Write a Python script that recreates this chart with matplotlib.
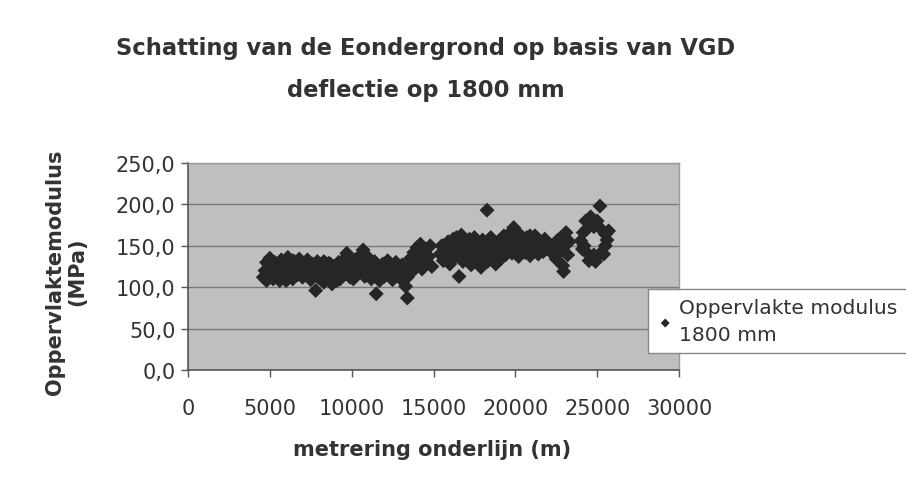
import matplotlib
matplotlib.use("Agg")
import matplotlib.pyplot as plt
from matplotlib.ticker import FuncFormatter

title = "Schatting van de Eondergrond op basis van VGD\ndeflectie op 1800 mm"
x_label = "metrering onderlijn (m)"
y_label = "Oppervlaktemodulus\n(MPa)"
series_name = "Oppervlakte modulus\n1800 mm"

x_seg_a = [4600, 4700, 4800, 4800, 4900, 5000, 5000, 5100, 5200, 5300, 5300, 5400, 5500, 5600,
           5600, 5700, 5800, 5900, 6000, 6000, 6100, 6200, 6300, 6400, 6400, 6500, 6600, 6700,
           6800, 6900, 6900, 7000, 7100, 7200, 7300, 7300, 7400, 7500, 7600, 7600, 7700, 7800,
           7800, 7900, 8000, 8100, 8200, 8300, 8300, 8400, 8500, 8600, 8700, 8700, 8800, 8900,
           9000, 9100, 9100, 9200, 9300, 9400, 9500, 9500, 9600, 9700, 9800, 9900, 10000, 10100,
           10100, 10200, 10300, 10400, 10500, 10600, 10600, 10700, 10800, 10900, 11000, 11000,
           11100, 11200, 11300, 11400, 11500, 11500, 11600, 11700, 11800, 11800, 11900, 12000,
           12100, 12200, 12300, 12300, 12400, 12500, 12600, 12700, 12700, 12800, 12900, 13000,
           13000, 13100, 13200, 13300, 13400, 13400, 13500, 13600, 13700, 13700, 13800, 13900,
           14000, 14100, 14200, 14300, 14400, 14500, 14600, 14700, 14800, 14900]
y_seg_a = [112, 120, 108, 130, 128, 115, 135, 122, 110, 130, 112, 118, 126, 108,
           125, 133, 121, 114, 128, 108, 136, 117, 125, 110, 132, 131, 122, 115,
           134, 127, 116, 112, 120, 130, 118, 133, 125, 109, 128, 112, 116, 96,
           122, 131, 111, 119, 127, 106, 131, 123, 114, 129, 118, 128, 104, 125,
           113, 121, 108, 130, 110, 126, 117, 131, 135, 141, 124, 112, 129, 119,
           110, 133, 115, 126, 138, 121, 132, 145, 113, 130, 118, 136,
           127, 110, 122, 131, 92, 115, 125, 108, 119, 112, 128, 113,
           124, 132, 117, 129, 126, 109, 121, 130, 118, 114, 123, 110,
           125, 127, 118, 101, 87, 112, 124, 135, 119, 135, 142, 128,
           148, 133, 152, 122, 140, 146, 130, 137, 150, 125]

x_seg_b = [15400, 15500, 15600, 15700, 15800, 15900, 16000, 16100, 16200, 16300, 16400, 16500,
           16560, 16600, 16700, 16800, 16900, 17000, 17100, 17200, 17300, 17400, 17500, 17600,
           17700, 17800, 17900, 18000, 18100, 18200, 18270, 18300, 18400, 18500, 18600, 18700,
           18800, 18900, 19000, 19100, 19200, 19300, 19400, 19500, 19600, 19700, 19800, 19900,
           20000, 20100, 20200, 20300, 20400, 20500, 20600, 20700, 20800, 20900, 21000, 21100,
           21200, 21300, 21400, 21500, 21600, 21700, 21800, 21900, 15600, 16200, 16900, 17500,
           18000, 18600, 19100, 19800, 20300, 20900, 21400]
y_seg_b = [140, 150, 132, 146, 138, 155, 128, 143, 135, 151, 160, 139,
           113, 147, 163, 131, 155, 142, 136, 158, 127, 149, 140, 154,
           133, 146, 124, 157, 138, 150, 193, 131, 145, 160, 136, 152,
           128, 143, 155, 134, 148, 162, 139, 153, 145, 166, 141, 172,
           150, 158, 137, 163, 146, 155, 142, 160, 150, 138, 157, 145,
           162, 148, 140, 156, 150, 143, 158, 152, 150, 158, 135, 160,
           132, 148, 140, 152, 150, 162, 143]

x_seg_c = [22200, 22300, 22400, 22500, 22600, 22700, 22800, 22900, 22950, 23000, 23100, 23200, 23300]
y_seg_c = [150, 140, 147, 134, 157, 143, 160, 126, 119, 150, 166, 139, 155]

x_seg_d = [24000, 24100, 24150, 24400, 24400, 24800, 24800, 25200, 25200, 25500, 25500, 25600,
           24300, 24600, 24200, 25000, 24900, 24500, 25170, 25700, 25400]
y_seg_d = [156, 146, 166, 171, 141, 173, 139, 171, 141, 164, 150, 157,
           180, 185, 150, 180, 131, 132, 198, 168, 140]

x_vals = x_seg_a + x_seg_b + x_seg_c + x_seg_d
y_vals = y_seg_a + y_seg_b + y_seg_c + y_seg_d

x_ticks = [0, 5000, 10000, 15000, 20000, 25000, 30000]
y_ticks = [0, 50, 100, 150, 200, 250]

TXT = "#333333"
FS = 15

fig = plt.figure(figsize=(9.06, 4.85), dpi=100)
fig.patch.set_facecolor("white")
ax = fig.add_axes([188 / 906, 1 - 371 / 485, 491 / 906, 207 / 485])
ax.set_facecolor("#bfbfbf")
ax.set_xlim(0, 30000)
ax.set_ylim(0, 250)
ax.set_xticks(x_ticks)
ax.set_yticks(y_ticks)
ax.yaxis.set_major_formatter(FuncFormatter(lambda v, p: f"{v:.1f}".replace(".", ",")))
ax.xaxis.set_major_formatter(FuncFormatter(lambda v, p: f"{int(v)}"))
ax.grid(axis="y", color="#7a7a7a", linewidth=1.0)
ax.set_axisbelow(True)
for s in ["top", "right"]:
    ax.spines[s].set_color("#9a9a9a")
    ax.spines[s].set_linewidth(1.0)
for s in ["left", "bottom"]:
    ax.spines[s].set_color("#555555")
    ax.spines[s].set_linewidth(1.2)
ax.tick_params(axis="both", labelsize=FS, colors="#555555", labelcolor=TXT,
               length=5, direction="out", width=1)
ax.tick_params(axis="x", pad=15)
ax.tick_params(axis="y", pad=4)

ax.scatter(x_vals, y_vals, marker="D", s=58, color="#262626", edgecolors="none",
           label=series_name, zorder=3)

title_lines = title.split("\n")
fig.text(426 / 906, 1 - 48 / 485, title_lines[0], ha="center", va="center", fontsize=16.3,
         fontweight="bold", color=TXT)
fig.text(426 / 906, 1 - 90 / 485, title_lines[1], ha="center", va="center", fontsize=16.3,
         fontweight="bold", color=TXT)
fig.text(66 / 906, 1 - 272 / 485, y_label, ha="center", va="center", rotation=90,
         fontsize=FS, fontweight="bold", color=TXT, multialignment="center",
         linespacing=1.15)
fig.text(432 / 906, 1 - 450 / 485, x_label, ha="center", va="center", fontsize=FS,
         fontweight="bold", color=TXT)

leg = fig.legend(loc="upper left", bbox_to_anchor=(648 / 906, 1 - 290 / 485),
                 frameon=True, fontsize=14.6, markerscale=0.6, handletextpad=0.3,
                 handlelength=0.8, borderpad=0.45, borderaxespad=0.0, fancybox=False,
                 framealpha=1.0)
leg.get_frame().set_edgecolor("#888888")
leg.get_frame().set_linewidth(1.0)
for t in leg.get_texts():
    t.set_color(TXT)
    t.set_linespacing(1.5)

fig.savefig("out.png", dpi=100)
